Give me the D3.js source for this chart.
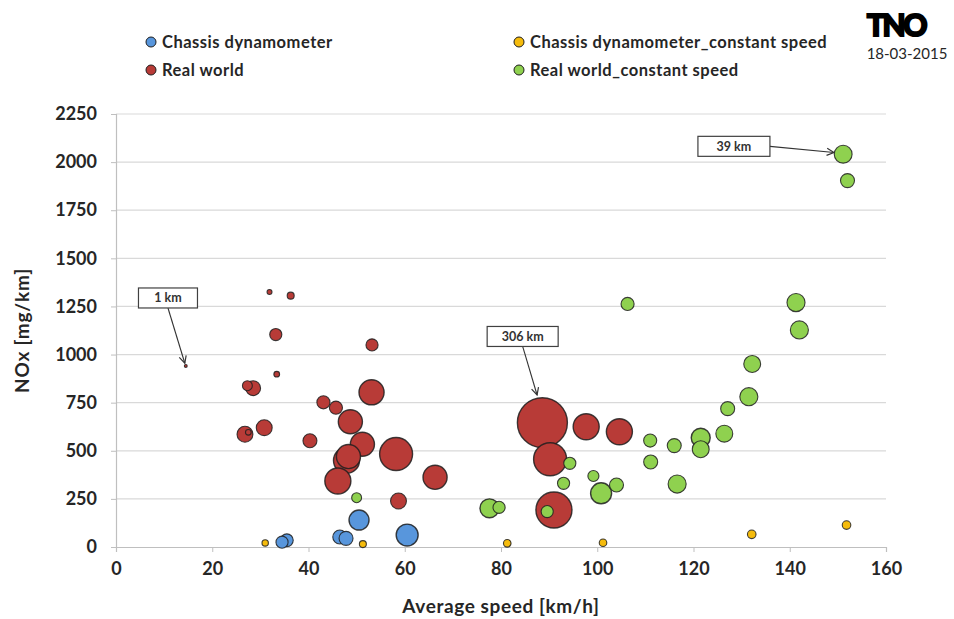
<!DOCTYPE html>
<html>
<head>
<meta charset="utf-8">
<script src="https://cdn.jsdelivr.net/npm/d3@7"></script>
<style>
  body { margin: 0; background: #fff; }
  text { font-family: Lato, "Open Sans", sans-serif; }
</style>
</head>
<body>
<svg id="chart"></svg>
<script>
// set svg params

var svgWidth = 954, svgHeight = 619;

// data: average speed [km/h], NOx [mg/km], trip length [km] (bubble size)

var cdSpeed = [34.5, 35.5, 46.5, 47.8, 50.5, 60.5];
var cdNox   = [25, 35, 52, 45, 140, 62];
var cdKm    = [18, 20, 24, 24, 49, 59];

var rwSpeed = [14.5, 31.9, 36.3, 33.2, 33.4, 27.3, 28.5, 26.8, 27.5, 30.8, 40.3, 43.1, 45.7, 53.1,
               48.7, 51.2, 47.9, 48.3, 46.1, 58.2, 66.3, 58.7, 53.2, 88.6, 90.2, 91.0, 97.7, 104.6];
var rwNox   = [941, 1325, 1306, 1104, 898, 838, 825, 586, 596, 620, 552, 752, 724, 804,
               651, 534, 450, 470, 343, 483, 362, 239, 1050, 646, 456, 192, 625, 599];
var rwKm    = [1, 3, 6, 18, 4, 12, 27, 31, 4, 31, 24, 21, 21, 77,
               71, 71, 83, 71, 83, 133, 71, 31, 18, 306, 133, 159, 83, 83];

var cdcSpeed = [31, 51.3, 81.3, 101.2, 132.1, 151.8];
var cdcNox   = [21, 15, 19, 22, 66, 114];
var cdcKm    = [5, 6, 7, 7, 9, 9];

var rwcSpeed = [106.3, 141.3, 142, 132.2, 131.5, 127.1, 126.4, 121.5, 121.5, 116, 111, 111.1, 116.6,
                99.2, 100.8, 104, 94.3, 93, 89.6, 77.6, 79.6, 50, 151.1, 152];
var rwcNox   = [1263, 1270, 1128, 951, 781, 719, 589, 568, 508, 527, 553, 442, 327,
                369, 279, 322, 435, 331, 184, 201, 206, 256, 2041, 1904];
var rwcKm    = [21, 40, 40, 35, 40, 24, 35, 44, 35, 24, 21, 24, 40,
                15, 54, 24, 18, 18, 18, 44, 18, 12, 39, 24];

var seriesNames  = ["Chassis dynamometer", "Real world", "Chassis dynamometer_constant speed", "Real world_constant speed"];
var seriesColors = ["#5896dc", "#b83b37", "#f5bb0c", "#8fd14f"];

var xTicks = [0, 20, 40, 60, 80, 100, 120, 140, 160];
var yTicks = [0, 250, 500, 750, 1000, 1250, 1500, 1750, 2000, 2250];

// callouts: label, target point, box centre (data units)
var noteLabels = ["1 km", "306 km", "39 km"];
var noteTarget = [[14.3, 955], [87.5, 790], [149.2, 2050]];
var noteBox    = [[10.8, 1294], [84.5, 1094], [128.4, 2082]];
var noteWidth  = [59, 71, 72];

// scales

var xScale = d3.scaleLinear().domain([0, 160]).range([116, 886]);
var yScale = d3.scaleLinear().domain([0, 2250]).range([547, 114]);
var rScale = d3.scaleSqrt().domain([0, 306]).range([0, 25]);

var svg = d3.select("#chart")
    .attr("width", svgWidth)
    .attr("height", svgHeight);

svg.append("defs").append("marker")
    .attr("id", "arrow")
    .attr("viewBox", "0 0 10 10")
    .attr("refX", 9).attr("refY", 5)
    .attr("markerWidth", 9).attr("markerHeight", 9)
    .attr("markerUnits", "userSpaceOnUse")
    .attr("orient", "auto")
  .append("path")
    .attr("d", "M1,1 L9,5 L1,9")
    .attr("fill", "none")
    .attr("stroke", "#333")
    .attr("stroke-width", 1.3);

// gridlines

svg.append("g")
    .selectAll("line")
    .data(yTicks.slice(1))
    .enter()
    .append("line")
    .attr("x1", xScale(0)).attr("x2", xScale(160))
    .attr("y1", function (d) { return yScale(d); })
    .attr("y2", function (d) { return yScale(d); })
    .attr("stroke", "#d9d9d9")
    .attr("stroke-width", 1.2);

// axes

var xAxis = svg.append("g")
    .attr("transform", "translate(0," + yScale(0) + ")")
    .call(d3.axisBottom(xScale).tickValues(xTicks).tickFormat(d3.format("d")).tickSize(5).tickPadding(10));

var yAxis = svg.append("g")
    .attr("transform", "translate(" + xScale(0) + ",0)")
    .call(d3.axisLeft(yScale).tickValues(yTicks).tickFormat(d3.format("d")).tickSize(5).tickPadding(14));

[xAxis, yAxis].forEach(function (ax) {
  ax.select(".domain").attr("stroke", "#bfbfbf").attr("stroke-width", 1.2);
  ax.selectAll(".tick line").attr("stroke", "#bfbfbf");
  ax.selectAll(".tick text")
      .attr("font-family", "Lato, sans-serif")
      .attr("font-weight", "bold")
      .attr("font-size", 18)
      .attr("fill", "#262626");
});

svg.append("text")
    .attr("x", (xScale(0) + xScale(160)) / 2)
    .attr("y", 613)
    .attr("text-anchor", "middle")
    .attr("font-weight", "bold")
    .attr("font-size", 19)
    .attr("letter-spacing", 0.6)
    .attr("fill", "#262626")
    .text("Average speed [km/h]");

svg.append("text")
    .attr("transform", "translate(29," + ((yScale(0) + yScale(2250)) / 2 + 0) + ") rotate(-90)")
    .attr("text-anchor", "middle")
    .attr("font-weight", "bold")
    .attr("font-size", 19)
    .attr("letter-spacing", 0.8)
    .attr("fill", "#262626")
    .text("NOx [mg/km]");

// bubbles

function makeSeries(speeds, noxs, kms, color) {
  var pts = speeds.map(function (s, i) { return {x: s, y: noxs[i], km: kms[i]}; });
  pts.sort(function (a, b) { return b.km - a.km; });
  svg.append("g")
    .selectAll("circle")
    .data(pts)
    .enter()
    .append("circle")
    .attr("cx", function (d) { return xScale(d.x); })
    .attr("cy", function (d) { return yScale(d.y); })
    .attr("r", function (d) { return Math.max(rScale(d.km), 1.3); })
    .attr("fill", color)
    .attr("stroke", "#1e1e1e")
    .attr("stroke-opacity", 0.85)
    .attr("stroke-width", function (d) { return d.km > 40 ? 1.4 : 1.1; });
}

makeSeries(rwSpeed, rwNox, rwKm, seriesColors[1]);
makeSeries(cdSpeed, cdNox, cdKm, seriesColors[0]);
makeSeries(cdcSpeed, cdcNox, cdcKm, seriesColors[2]);
makeSeries(rwcSpeed, rwcNox, rwcKm, seriesColors[3]);

// callouts

noteLabels.forEach(function (label, i) {
  var bx = xScale(noteBox[i][0]), by = yScale(noteBox[i][1]);
  var tx = xScale(noteTarget[i][0]), ty = yScale(noteTarget[i][1]);
  var w = noteWidth[i], h = 20;
  var sx, sy;
  if (tx > bx + w / 2) { sx = bx + w / 2; sy = by; }
  else { sx = bx; sy = by + h / 2; }
  svg.append("line")
      .attr("x1", sx).attr("y1", sy)
      .attr("x2", tx).attr("y2", ty)
      .attr("stroke", "#333")
      .attr("stroke-width", 1.1)
      .attr("marker-end", "url(#arrow)");
  svg.append("rect")
      .attr("x", bx - w / 2).attr("y", by - h / 2)
      .attr("width", w).attr("height", h)
      .attr("fill", "#fff")
      .attr("stroke", "#404040")
      .attr("stroke-width", 1.2);
  svg.append("text")
      .attr("x", bx).attr("y", by + 4.5)
      .attr("text-anchor", "middle")
      .attr("font-size", 12.5)
      .attr("font-weight", "bold")
      .attr("fill", "#333")
      .text(label);
});

// legend

var legendX = [151, 151, 519, 519];
var legendY = [42, 70, 42, 70];
var legend = svg.append("g")
    .selectAll("g")
    .data(seriesNames)
    .enter()
    .append("g")
    .attr("transform", function (d, i) { return "translate(" + legendX[i] + "," + legendY[i] + ")"; });

legend.append("circle")
    .attr("r", 5)
    .attr("fill", function (d, i) { return seriesColors[i]; })
    .attr("stroke", "#1e1e1e")
    .attr("stroke-width", 1);

legend.append("text")
    .attr("x", 11)
    .attr("y", 5.5)
    .attr("font-weight", "bold")
    .attr("font-size", 16.5)
    .attr("letter-spacing", 0.5)
    .attr("fill", "#262626")
    .text(function (d) { return d; });

// TNO mark

svg.append("text")
    .attr("x", 896)
    .attr("y", 36)
    .attr("text-anchor", "middle")
    .attr("font-family", "'DejaVu Sans', sans-serif")
    .attr("font-weight", "bold")
    .attr("font-size", 30)
    .attr("letter-spacing", -2.5)
    .attr("fill", "#000")
    .attr("stroke", "#000")
    .attr("stroke-width", 2.2)
    .text("TNO");

svg.append("text")
    .attr("x", 907)
    .attr("y", 59)
    .attr("text-anchor", "middle")
    .attr("font-size", 15)
    .attr("fill", "#262626")
    .text("18-03-2015");
</script>
</body>
</html>
